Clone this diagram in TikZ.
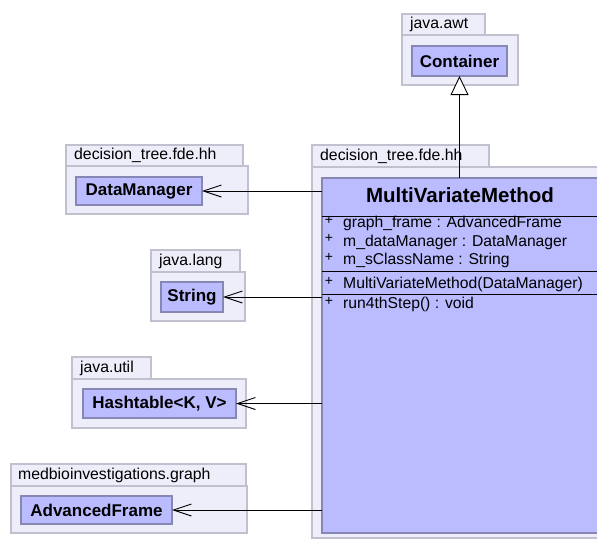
\documentclass[tikz,border=0pt]{standalone}
\usepackage{fontspec}
\setmainfont{Liberation Sans}
\usetikzlibrary{arrows.meta}
\definecolor{pkgfill}{RGB}{238,238,251}
\definecolor{pkgline}{RGB}{192,192,206}
\definecolor{clsfill}{RGB}{187,187,255}
\definecolor{clsline}{RGB}{135,135,180}
\tikzset{
  pkg/.style={draw=pkgline, fill=pkgfill, line width=1.2pt, inner sep=0pt, outer sep=0pt, anchor=north west},
  cls/.style={draw=clsline, fill=clsfill, line width=1.2pt, inner sep=0pt, outer sep=0pt, anchor=north west},
  pkglabel/.style={anchor=west, inner sep=0pt, font=\fontsize{15.8}{18}\selectfont},
  clsname/.style={font=\fontsize{17}{20}\selectfont\bfseries, inner sep=0pt},
  bigname/.style={font=\fontsize{20.5}{24}\selectfont\bfseries, inner sep=0pt},
  member/.style={anchor=west, inner sep=0pt, font=\fontsize{15.7}{18}\selectfont},
  plus/.style={inner sep=0pt, font=\fontsize{14}{16}\selectfont},
  sepline/.style={draw=black, line width=0.9pt},
  dep/.style={draw=black, line width=0.9pt, -{Straight Barb[length=18pt,width=12pt,line width=0.9pt]}},
  inh/.style={draw=black, line width=0.9pt, -{Triangle[open, length=19pt, width=18pt, fill=white, line width=0.9pt]}},
}
\begin{document}
\begin{tikzpicture}[x=1pt, y=-1pt]
\clip (0,0) rectangle (597,539);
\fill[white] (0,0) rectangle (597,539);

% java.awt
\node[pkg, minimum width=116pt, minimum height=50pt] (awtbody) at (402,35) {};
\node[pkg, minimum width=83pt, minimum height=21pt] (awttab) at (402,14) {};
\node[pkglabel] (awtlbl) at ([xshift=8pt]awttab.west) {java.awt};
\node[cls, minimum width=95pt, minimum height=30pt] (container) at (412,46) {};
\node[clsname] (containerlbl) at (container.center) {Container};

% decision_tree.fde.hh (left)
\node[pkg, minimum width=182pt, minimum height=48pt] (dmbody) at (66,166) {};
\node[pkg, minimum width=177pt, minimum height=21pt] (dmtab) at (66,145) {};
\node[pkglabel] (dmlbl) at ([xshift=8pt]dmtab.west) {decision\_tree.fde.hh};
\node[cls, minimum width=126pt, minimum height=28pt] (dm) at (76,177) {};
\node[clsname] (dmname) at (dm.center) {DataManager};

% java.lang
\node[pkg, minimum width=94pt, minimum height=49pt] (langbody) at (151,272) {};
\node[pkg, minimum width=89pt, minimum height=22pt] (langtab) at (151,250) {};
\node[pkglabel] (langlbl) at ([xshift=8pt]langtab.west) {java.lang};
\node[cls, minimum width=62pt, minimum height=30pt] (str) at (161,282) {};
\node[clsname] (strname) at (str.center) {String};

% java.util
\node[pkg, minimum width=174pt, minimum height=49pt] (utilbody) at (72,379) {};
\node[pkg, minimum width=79pt, minimum height=22pt] (utiltab) at (72,357) {};
\node[pkglabel] (utillbl) at ([xshift=8pt]utiltab.west) {java.util};
\node[cls, minimum width=153pt, minimum height=29pt] (ht) at (83,389) {};
\node[clsname] (htname) at (ht.center) {Hashtable<K, V>};

% medbioinvestigations.graph
\node[pkg, minimum width=236pt, minimum height=47pt] (mbbody) at (11,486) {};
\node[pkg, minimum width=235pt, minimum height=22pt] (mbtab) at (11,464) {};
\node[pkglabel] (mblbl) at ([xshift=7pt]mbtab.west) {medbioinvestigations.graph};
\node[cls, minimum width=151pt, minimum height=28pt] (af) at (21,496) {};
\node[clsname] (afname) at (af.center) {AdvancedFrame};

% decision_tree.fde.hh (main)
\node[pkg, minimum width=300pt, minimum height=371pt] (mainbody) at (312,167) {};
\node[pkg, minimum width=177pt, minimum height=22pt] (maintab) at (312,145) {};
\node[pkglabel] (mainlbl) at ([xshift=8pt]maintab.west) {decision\_tree.fde.hh};
\node[cls, minimum width=278pt, minimum height=355pt] (mvm) at (322,178) {};
\node[bigname] (mvmname) at (460,195) {MultiVariateMethod};
\coordinate (s1) at (322,216);
\coordinate (s2) at (322,271);
\coordinate (s3) at (322,294);
\draw[sepline] (s1) -- (s1 -| mvm.east);
\draw[sepline] (s2) -- (s2 -| mvm.east);
\draw[sepline] (s3) -- (s3 -| mvm.east);
\node[plus] (p1) at (329,220) {+};
\node[member] (m1) at (343,223.5) {graph\_frame : AdvancedFrame};
\node[plus] (p2) at (329,238.5) {+};
\node[member] (m2) at (343,242) {m\_dataManager : DataManager};
\node[plus] (p3) at (329,257) {+};
\node[member] (m3) at (343,260.5) {m\_sClassName : String};
\node[plus] (p4) at (329,281) {+};
\node[member] (m4) at (343,284.5) {MultiVariateMethod(DataManager)};
\node[plus] (p5) at (329,301) {+};
\node[member] (m5) at (343,304.5) {run4thStep() : void};

% connectors
\draw[inh] (mvm.north -| container.south) -- (container.south);
\draw[dep] (mvm.west |- dm.east) -- (dm.east);
\draw[dep] (mvm.west |- str.east) -- (str.east);
\draw[dep] (mvm.west |- ht.east) -- (ht.east);
\draw[dep] (mvm.west |- af.east) -- (af.east);
\end{tikzpicture}
\end{document}
